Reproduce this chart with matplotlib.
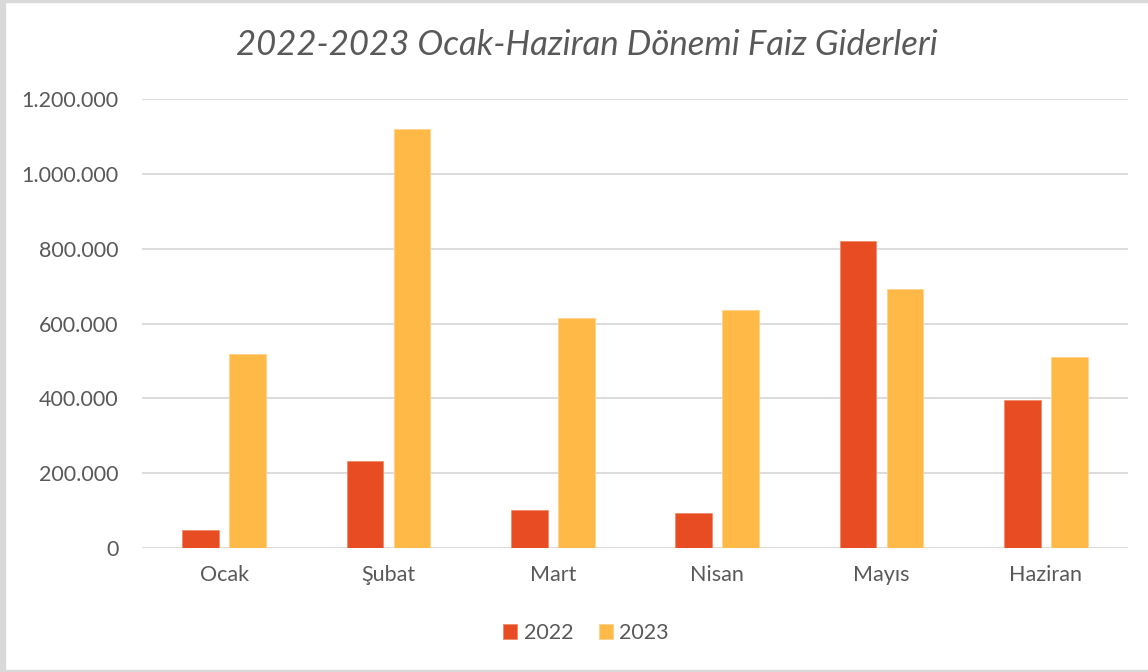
import numpy as np
import matplotlib.pyplot as plt
from matplotlib.ticker import FuncFormatter
from matplotlib.patches import Rectangle

# Aylik faiz giderleri
aylar = ["Ocak", "Şubat", "Mart", "Nisan", "Mayıs", "Haziran"]
giderler_2022 = [47000, 233000, 102000, 94000, 821000, 396000]
giderler_2023 = [519000, 1120000, 616000, 636000, 693000, 511000]
yillar = ["2022", "2023"]
y_ticks = [0, 200000, 400000, 600000, 800000, 1000000, 1200000]

renk_2022 = "#E84C22"
renk_2023 = "#FFB946"
yazi_rengi = "#595959"

plt.rcParams['font.family'] = ['Lato', 'DejaVu Sans']

fig = plt.figure(figsize=(11.48, 6.72), dpi=100)
ax = fig.add_axes([142/1148, 1 - 548/672, (1128-142)/1148, (548-99)/672])

x = np.arange(len(aylar))
w = 0.225
ax.bar(x - 0.143, giderler_2022, w, color=renk_2022, edgecolor="#F08A6A", linewidth=0.6, label=yillar[0], zorder=3)
ax.bar(x + 0.143, giderler_2023, w, color=renk_2023, edgecolor="#FFD28A", linewidth=0.6, label=yillar[1], zorder=3)

ax.set_xlim(-0.5, len(aylar) - 0.5)
ax.set_ylim(0, 1200000)
ax.set_yticks(y_ticks)
ax.yaxis.set_major_formatter(FuncFormatter(lambda v, p: f"{int(v):,}".replace(",", ".")))
ax.set_xticks(x)
ax.set_xticklabels(aylar)
ax.grid(axis="y", color="#d9d9d9", linewidth=1.3, zorder=0)
for s in ax.spines.values():
    s.set_visible(False)
ax.tick_params(axis="both", length=0, labelsize=15.5, labelcolor=yazi_rengi)
ax.tick_params(axis="y", pad=17)
ax.tick_params(axis="x", pad=12)

fig.text(587/1148, 1 - 45/672, "2022-2023 Ocak-Haziran Dönemi Faiz Giderleri",
         ha="center", va="center", fontsize=25, style="italic", color=yazi_rengi)

fig.legend(*ax.get_legend_handles_labels(), loc="center", bbox_to_anchor=(586/1148, 1 - 633/672),
           ncol=2, frameon=False, fontsize=15.5, labelcolor=yazi_rengi, handlelength=0.65,
           handleheight=0.65, handletextpad=0.3, columnspacing=1.2)

# gri cerceve
fig.patches.append(Rectangle((0, 0), 5/1148, 1, transform=fig.transFigure, color="#d9d9d9", zorder=0))
fig.patches.append(Rectangle((0, 1 - 2/672), 1, 2/672, transform=fig.transFigure, color="#d9d9d9", zorder=0))
fig.patches.append(Rectangle((0, 0), 1, 2/672, transform=fig.transFigure, color="#d9d9d9", zorder=0))

fig.savefig("out.png", dpi=100)
